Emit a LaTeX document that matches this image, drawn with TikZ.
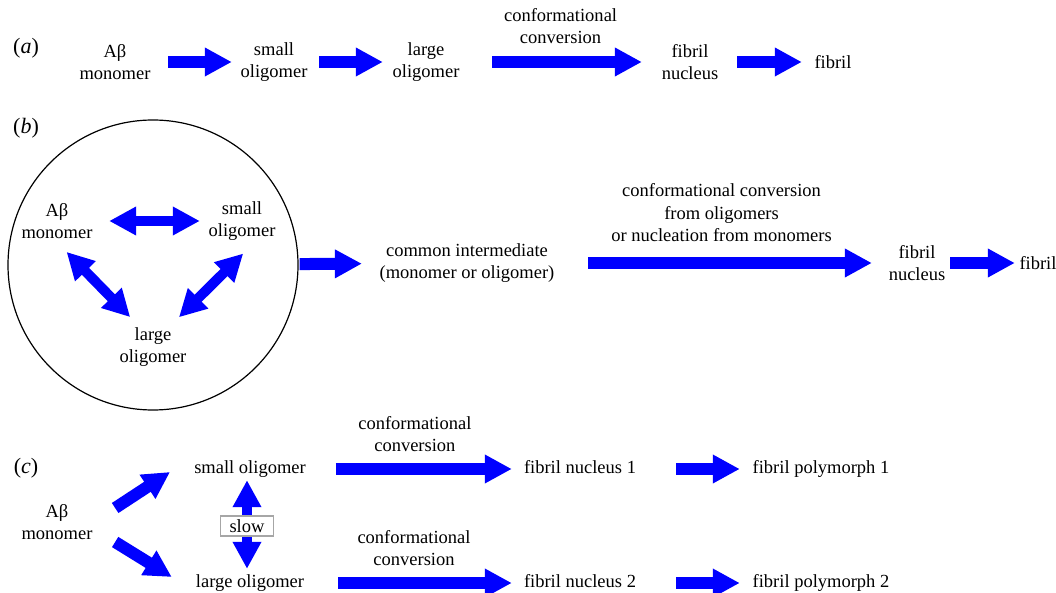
\documentclass[tikz,border=0pt]{standalone}
\usepackage{fontspec}
\setmainfont{Liberation Serif}
\newfontfamily\timesfont{Liberation Serif}
\usetikzlibrary{arrows.meta}
\tikzset{
  blk/.style={draw=blue, line width=12pt, -{Triangle[length=27pt,width=27pt]}},
  dblk/.style={draw=blue, line width=10pt, {Triangle[length=27pt,width=27pt]}-{Triangle[length=27pt,width=27pt]}},
  one/.style={text height=13pt, text depth=4pt},
  part/.style={font=\timesfont\fontsize{22}{26}\selectfont},
  slowbox/.style={draw=black!35, fill=white, line width=1.2pt, inner xsep=9pt, inner ysep=3.5pt},
}
\begin{document}
\begin{tikzpicture}[x=1pt, y=-1pt,
    every node/.style={inner sep=0pt, align=center, font=\timesfont\fontsize{18.5}{22.5}\selectfont}]
  \useasboundingbox (0,0) rectangle (1056,593);
  \draw
    (26,48) node[part] (pa){(\textit{a})}
    (115,62) node (a1){Aβ\\monomer}
    (274,62) node (a2){small\\oligomer}
    (426,62) node (a3){large\\oligomer}
    (690,62) node (a4){fibril\\nucleus}
    (833,62) node (a5){fibril};
  \draw[blk, shorten <=17.5pt, shorten >=8.6pt] (a1) -- (a2);
  \draw[blk, shorten <=11.6pt, shorten >=9.6pt] (a2) -- (a3);
  \draw[blk, shorten <=32.6pt, shorten >=19.7pt] (a3) -- node[above=12pt] (la){conformational\\conversion} (a4);
  \draw[blk, shorten <=18.7pt, shorten >=12.5pt] (a4) -- (a5);

  \draw
    (26,128) node[part] (pb){(\textit{b})}
    (57,221) node (b1){Aβ\\monomer}
    (242,221) node (b2){small\\oligomer}
    (153,347) node (b3){large\\oligomer}
    (467,263) node (ci){common intermediate\\(monomer or oligomer)}
    (917,263) node (b4){fibril\\nucleus}
    (1038,263) node (b5){fibril};
  \node[draw, circle, line width=1.2pt, minimum size=290pt] (pool) at (153,265) {};
  \draw[dblk, shorten <=16.5pt, shorten >=8.6pt] (b1) -- (b2);
  \draw[dblk, shorten <=18pt, shorten >=14pt] ([xshift=-3pt]b1.south) -- ([xshift=-13pt]b3.north);
  \draw[dblk, shorten <=18pt, shorten >=14pt] ([xshift=14pt]b2.south) -- ([xshift=16pt]b3.north);
  \draw[blk, shorten <=1pt, shorten >=17.6pt] (pool) -- (ci);
  \draw[blk, shorten <=33.6pt, shorten >=16.7pt] (ci) -- node[above=15pt] (lb){conformational conversion\\from oligomers\\or nucleation from monomers} (b4);
  \draw[blk, shorten <=4.7pt, shorten >=4.5pt] (b4) -- (b5);

  \draw
    (26,468) node[part] (pc){(\textit{c})}
    (57,522) node (c1){Aβ\\monomer}
    (250,469) node[one] (c2){small oligomer}
    (250,583) node[one] (c3){large oligomer}
    (580,469) node[one] (c4){fibril nucleus 1}
    (821,469) node[one] (c5){fibril polymorph 1}
    (580,583) node[one] (c6){fibril nucleus 2}
    (821,583) node[one] (c7){fibril polymorph 2};
  \draw[blk] ([shift={(22.5,-14)}]c1.east) -- ([shift={(-24,3)}]c2.west);
  \draw[blk] ([shift={(22.5,20)}]c1.east) -- ([shift={(-24,-6)}]c3.west);
  \draw[dblk, shorten <=2.5pt, shorten >=5.5pt] ([xshift=-3pt]c2.south) -- node[slowbox] (sl){slow} ([xshift=-3pt]c3.north);
  \draw[blk, shorten <=30pt, shorten >=12pt] (c2) -- node[above=11pt] (lc1){conformational\\conversion} (c4);
  \draw[blk, shorten <=40pt, shorten >=12.7pt] (c4) -- (c5);
  \draw[blk, shorten <=34pt, shorten >=12pt] (c3) -- node[above=11pt] (lc2){conformational\\conversion} (c6);
  \draw[blk, shorten <=40pt, shorten >=12.7pt] (c6) -- (c7);
\end{tikzpicture}
\end{document}
